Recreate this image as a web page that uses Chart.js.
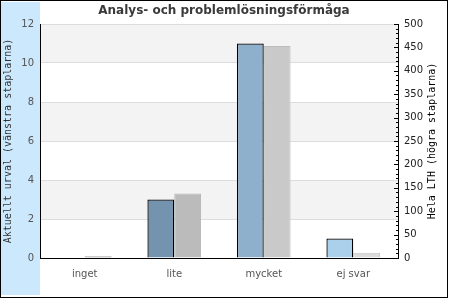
<!DOCTYPE html>
<html>
<head>
<meta charset="utf-8">
<script src="https://cdn.jsdelivr.net/npm/chart.js@4/dist/chart.umd.min.js"></script>
<style>
  body { margin: 0; background: #fff; }
  #wrap { position: absolute; left: 0; top: 0; width: 446px; height: 296px; border: 1px solid #000; }
</style>
</head>
<body>
<div id="wrap"><canvas id="myChart" width="446" height="296"></canvas></div>
<script>
// data
const categories = ['inget', 'lite', 'mycket', 'ej svar'];
const urvalValues = [0, 3, 11, 1];          // left axis (vänstra staplarna)
const lthValues = [4, 138, 453, 11];        // right axis (högra staplarna)
const leftTicks = [0, 2, 4, 6, 8, 10, 12];
const rightTicks = [0, 50, 100, 150, 200, 250, 300, 350, 400, 450, 500];

const urvalColors = ['#7393ae', '#7393ae', '#8eb0cc', '#abd0eb'];
const lthColors = ['#a3a3a3', '#bbbbbb', '#c9c9c9', '#dcdcdc'];
const lthBorders = ['#8a8a8a', '#b4b4b4', '#bdbdbd', '#c6c6c6'];

// blue strip, alternating bands, inward minor ticks, right title
const decor = {
  id: 'decor',
  beforeDraw(chart) {
    const c = chart.ctx, a = chart.chartArea, y = chart.scales.y;
    c.save();
    c.fillStyle = '#cbe8fd';
    c.fillRect(0, 1, a.left, chart.height - 3);
    c.fillStyle = '#f3f3f3';
    for (let i = 0; i < leftTicks.length - 1; i++) {
      if (i % 2 === 1) {
        const top = y.getPixelForValue(leftTicks[i + 1]);
        const bot = y.getPixelForValue(leftTicks[i]);
        c.fillRect(a.left, top, a.right - a.left, bot - top);
      }
    }
    c.restore();
  },
  afterDraw(chart) {
    const c = chart.ctx, a = chart.chartArea, y2 = chart.scales.y2;
    c.save();
    c.strokeStyle = '#000';
    c.lineWidth = 1;
    for (let v = 0; v <= 500; v += 10) {
      const py = Math.round(y2.getPixelForValue(v)) + 0.5;
      const len = (v % 50 === 0) ? 4 : 2;
      c.beginPath();
      c.moveTo(a.right - len, py);
      c.lineTo(a.right, py);
      c.stroke();
    }
    c.fillStyle = '#000';
    c.font = '10px "DejaVu Sans Mono"';
    c.textAlign = 'center';
    c.textBaseline = 'middle';
    c.translate(431, (a.top + a.bottom) / 2);
    c.rotate(-Math.PI / 2);
    c.fillText('Hela LTH (högra staplarna)', 0, 0);
    c.restore();
  }
};

const data = {
  labels: categories,
  datasets: [
    {
      label: 'Aktuellt urval',
      data: urvalValues,
      yAxisID: 'y',
      backgroundColor: urvalColors,
      borderColor: '#000',
      borderWidth: 1.3
    },
    {
      label: 'Hela LTH',
      data: lthValues,
      yAxisID: 'y2',
      backgroundColor: lthColors,
      borderColor: lthBorders,
      borderWidth: 1
    }
  ]
};

const config = {
  type: 'bar',
  data,
  options: {
    responsive: false,
    animation: false,
    categoryPercentage: 0.6,
    barPercentage: 1,
    layout: { padding: 0 },
    plugins: {
      legend: { display: false },
      tooltip: { enabled: false },
      title: {
        display: true,
        text: 'Analys- och problemlösningsförmåga',
        color: '#3a3a3a',
        font: { family: 'DejaVu Sans', size: 12, weight: 'bold' },
        padding: { top: 3, bottom: 5.6 }
      }
    },
    scales: {
      x: {
        afterFit: s => { s.height = 39; },
        grid: { display: false, drawTicks: false },
        border: { color: '#000', width: 1 },
        ticks: { color: '#555', padding: 10, font: { family: 'DejaVu Sans', size: 10 } }
      },
      y: {
        position: 'left',
        min: 0,
        max: 12,
        afterFit: s => { s.width = 39; },
        afterBuildTicks: s => { s.ticks = leftTicks.map(v => ({ value: v })); },
        grid: { color: '#dddddd', drawTicks: false },
        border: { color: '#000', width: 1 },
        ticks: { color: '#555', padding: 6, font: { family: 'DejaVu Sans', size: 10 } },
        title: {
          display: true,
          text: 'Aktuellt urval (vänstra staplarna)',
          color: '#333',
          font: { family: 'DejaVu Sans Mono', size: 10 },
          padding: { top: 1, bottom: 0 }
        }
      },
      y2: {
        position: 'right',
        min: 0,
        max: 500,
        afterFit: s => { s.width = 49; },
        afterBuildTicks: s => { s.ticks = rightTicks.map(v => ({ value: v })); },
        grid: { drawOnChartArea: false, drawTicks: false },
        border: { color: '#000', width: 1 },
        ticks: { color: '#222', padding: 6, font: { family: 'DejaVu Sans', size: 10 } }
      }
    }
  },
  plugins: [decor]
};

const myChart = new Chart(document.getElementById('myChart'), config);
</script>
</body>
</html>
